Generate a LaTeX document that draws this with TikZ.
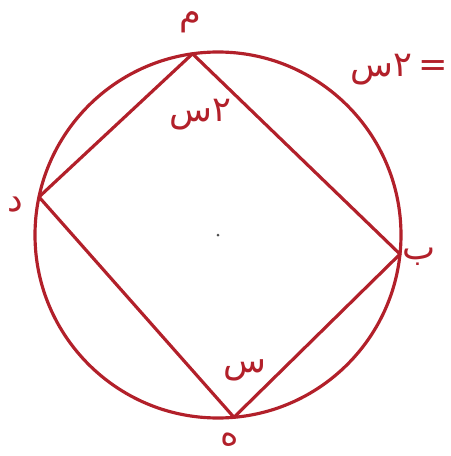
\documentclass[tikz,border=0pt]{standalone}
\usepackage{fontspec}
\newfontfamily\arabicfont[Script=Arabic]{DejaVu Sans}
\TeXXeTstate=1
\definecolor{pen}{RGB}{178,32,42}
\tikzset{
    lbl/.style={text=pen, font=\arabicfont\fontsize{20}{22}\selectfont, inner sep=0pt}
}
\begin{document}
\begin{tikzpicture}
        \useasboundingbox (-4.36,-4.42) rectangle (4.64,4.7);
        \coordinate (o) at (0,0);
        \draw [pen, line width=1.8pt] (o) circle (3.66);
        \fill [black!70] (o) circle (0.03);
        \coordinate (m) at (98:3.66);
        \coordinate (b) at (-6:3.66);
        \coordinate (h) at (-85:3.66);
        \coordinate (d) at (168:3.66);
        \draw [pen, line width=1.8pt, line join=round] (m) -- (b) -- (h) -- (d) -- cycle;
        \node [lbl] (lm) at (-0.56,4.26) {\beginR م\endR};
        \node [lbl] (lb) at (4.02,-0.44) {\beginR ب\endR};
        \node [lbl] (lh) at (0.24,-4.1) {\beginR ه\endR};
        \node [lbl] (ld) at (-4.06,0.6) {\beginR د\endR};
        \node [lbl] (am) at (-0.36,2.4) {\beginR ٢س\endR};
        \node [lbl] (ah) at (0.54,-2.7) {\beginR س\endR};
        \node [lbl, anchor=east] (q) at (4.6,3.3) {\beginR =\,٢س\endR};
    \end{tikzpicture}
\end{document}
